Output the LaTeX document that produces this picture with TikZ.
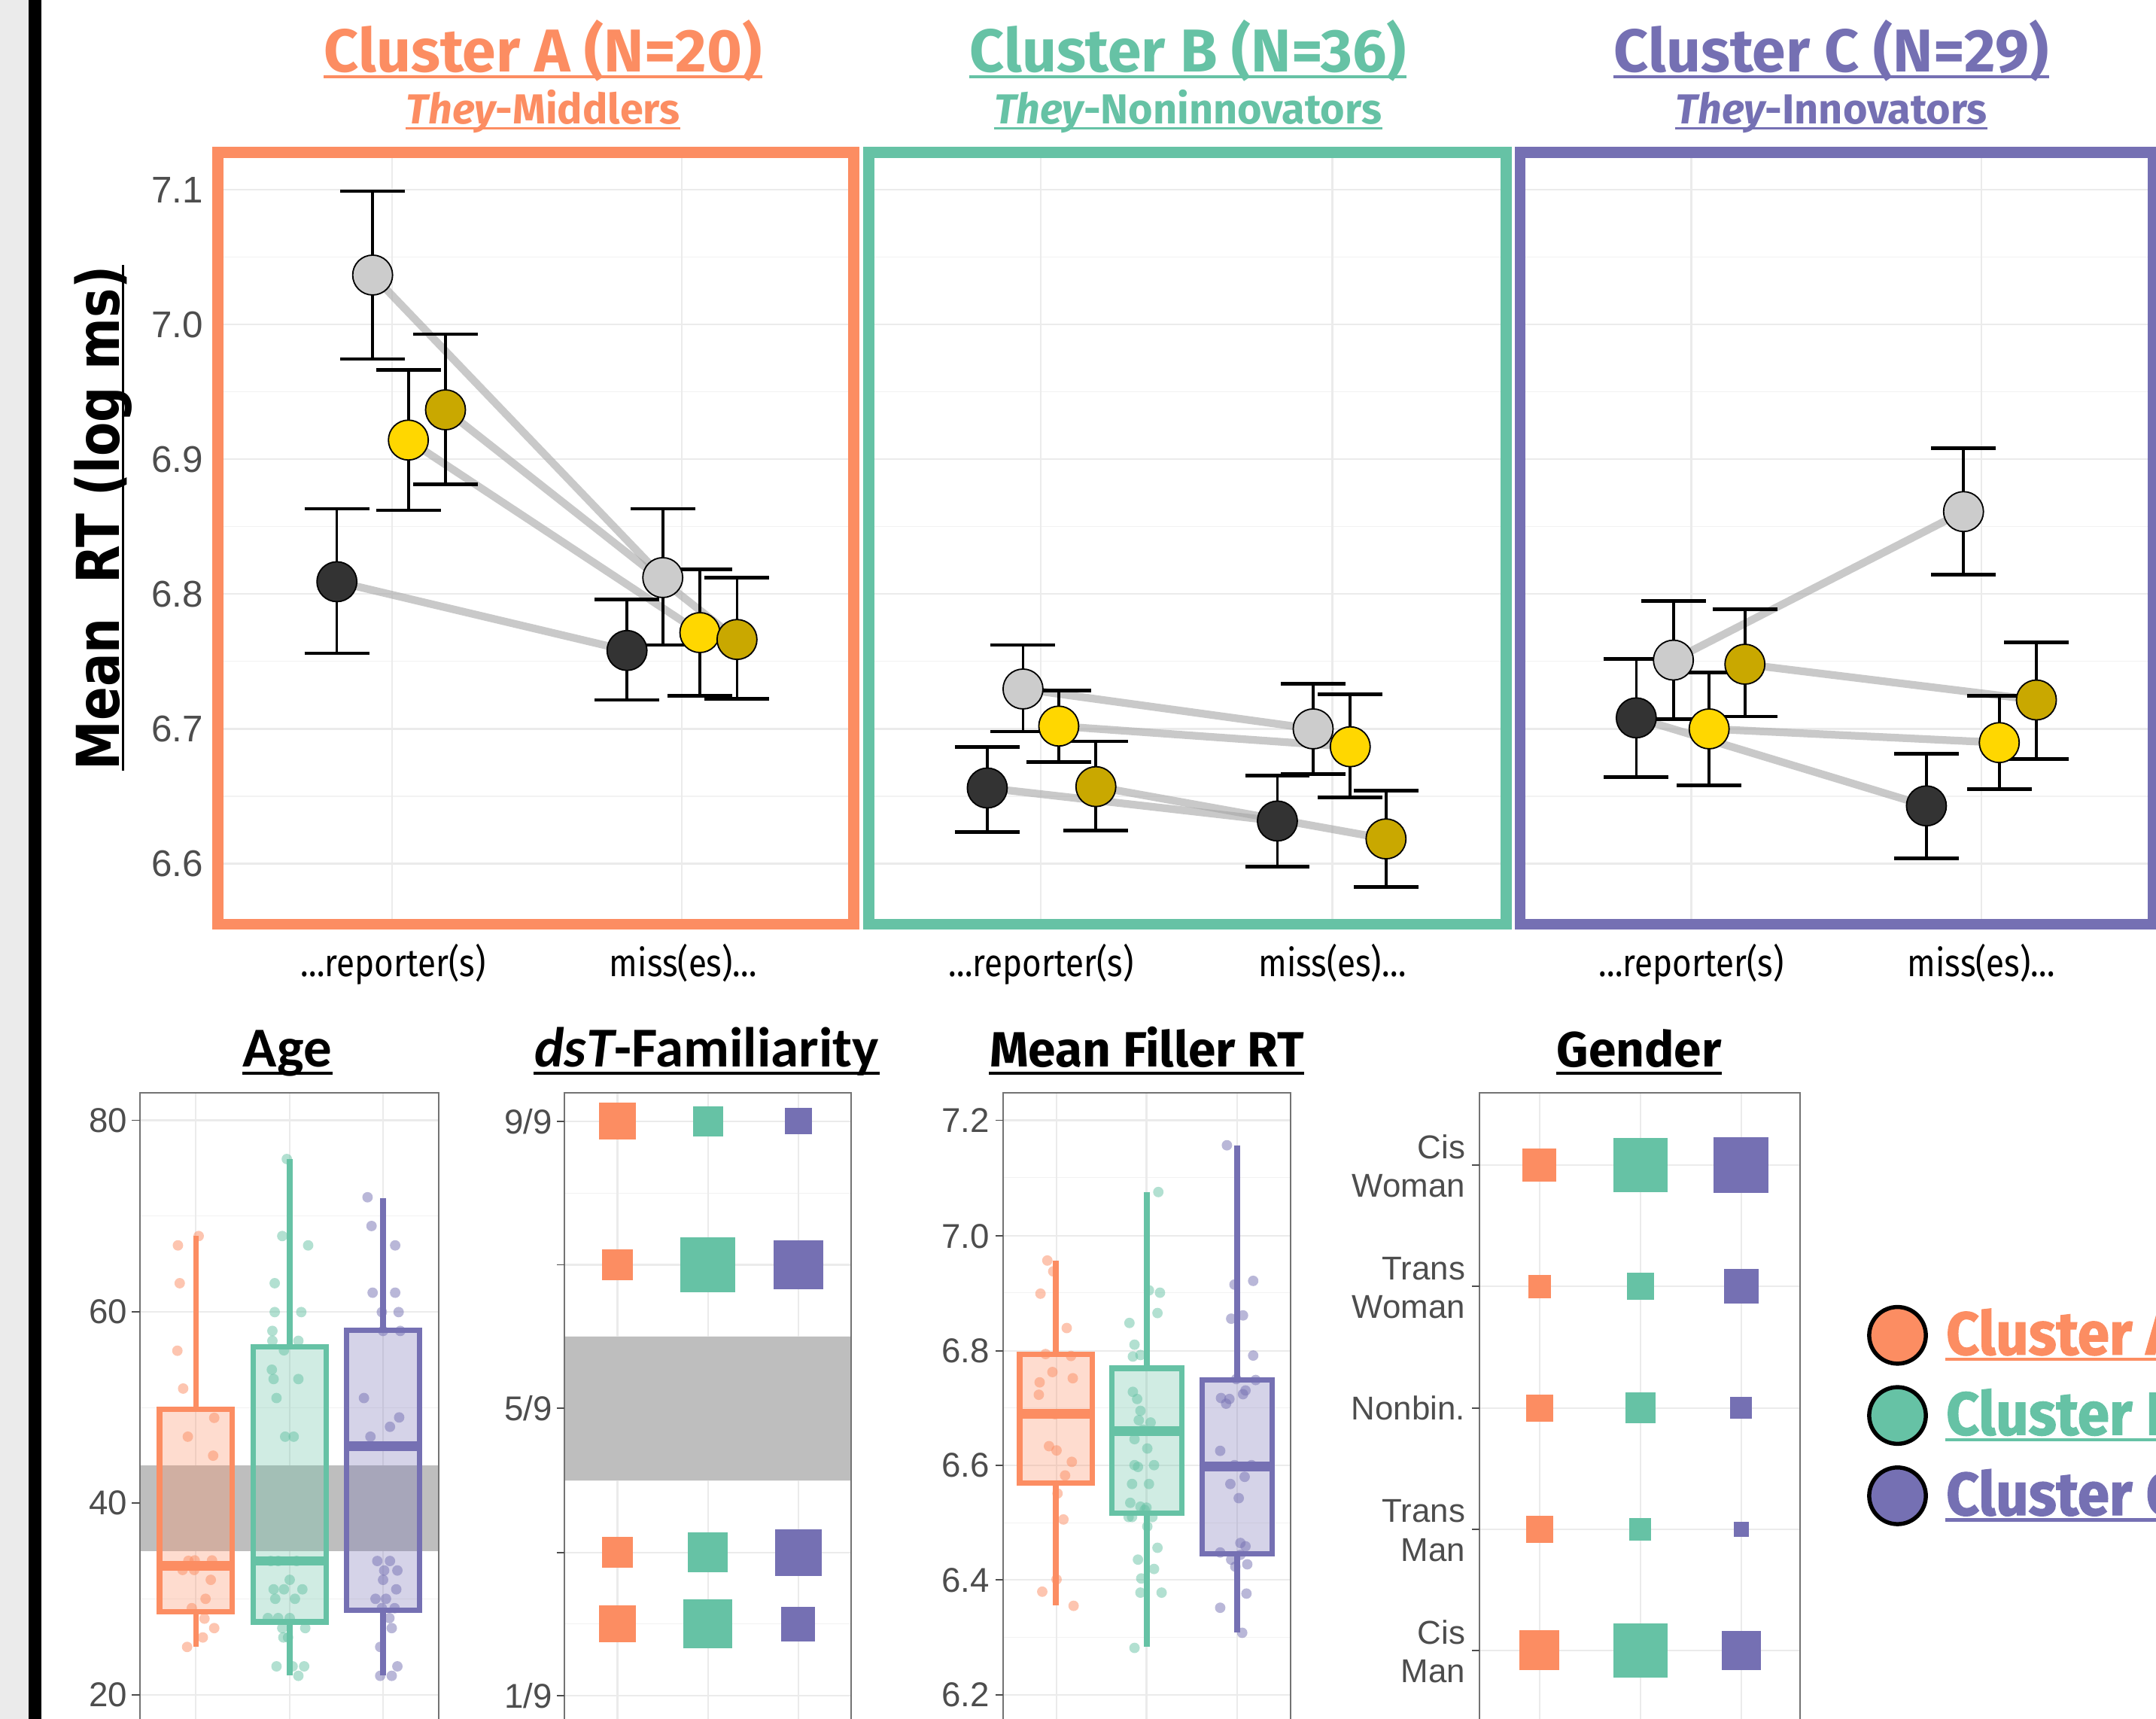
\documentclass[tikz,border=0pt]{standalone}
\usepackage{fontspec}
\setmainfont{Liberation Sans}
\newfontfamily\ttlfont{Fira Sans}
\newfontfamily\legfont[FakeStretch=0.95,BoldFeatures={FakeBold=1.5}]{Fira Sans}
\newfontfamily\axfont{Liberation Sans}
\newfontfamily\xlfont[FakeStretch=0.86]{Fira Sans}
\newfontfamily\carl{Carlito}
\newfontfamily\ylfont{DejaVu Sans}
\usetikzlibrary{calc}
\definecolor{cA}{HTML}{FC8D62}
\definecolor{cB}{HTML}{66C2A5}
\definecolor{cC}{HTML}{7570B3}
\definecolor{ptgray}{HTML}{CCCCCC}
\definecolor{ptyel}{HTML}{FFD700}
\definecolor{ptgold}{HTML}{C9A800}
\definecolor{ptblk}{HTML}{333333}
\definecolor{tickc}{HTML}{4D4D4D}
\definecolor{bandc}{HTML}{BEBEBE}
\definecolor{stripc}{HTML}{EBEBEB}
\newcommand\bplot[8]{%
  \draw[#8,line width=2pt] ({(#1+#2)/2},#6) -- ({(#1+#2)/2},#3);
  \draw[#8,line width=2pt] ({(#1+#2)/2},#4) -- ({(#1+#2)/2},#7);
  \filldraw[draw=#8,fill=#8,fill opacity=0.3,line width=2pt] (#1,#3) rectangle (#2,#4);
  \draw[#8,line width=3.5pt] (#1,#5) -- (#2,#5);
}
\newcommand\sqr[4]{\fill[#4] ({#1-#3/2},{#2-#3/2}) rectangle ({#1+#3/2},{#2+#3/2});}
\begin{document}
\begin{tikzpicture}[x=0.5pt,y=-0.5pt,
  gmaj/.style={draw=black!8,line width=0.6pt},
  gmin/.style={draw=black!5,line width=0.3pt},
  conn/.style={draw=black!35,draw opacity=0.6,line width=2.8pt},
  ebar/.style={draw=black,line width=1pt},
  ecap/.style={draw=black,line width=1.3pt},
  dot/.style={circle,draw=black,line width=0.5pt,minimum size=14.5pt,inner sep=0pt},
  pbord/.style={line width=4pt},
  ttl/.style={anchor=base,inner sep=0pt,font=\ttlfont\bfseries\fontsize{22}{22}\selectfont},
  subt/.style={anchor=base,inner sep=0pt,font=\ttlfont\bfseries\fontsize{15.25}{16}\selectfont},
  ytk/.style={anchor=east,inner sep=0pt,text=tickc,font=\axfont\fontsize{13.5}{14}\selectfont},
  xlab/.style={anchor=base,inner sep=0pt,font=\xlfont\fontsize{14}{14}\selectfont},
  btk/.style={anchor=east,inner sep=0pt,text=tickc,font=\axfont\fontsize{12.5}{14}\selectfont},
  glab/.style={anchor=east,inner sep=0pt,align=right,text=tickc,font=\axfont\fontsize{12}{14}\selectfont},
  btitle/.style={anchor=base,inner sep=0pt,font=\carl\bfseries\fontsize{20.5}{22}\selectfont},
  ctitle/.style={anchor=base,inner sep=0pt,font=\ttlfont\bfseries\fontsize{18}{20}\selectfont},
  legt/.style={anchor=base west,inner sep=0pt,font=\legfont\bfseries\fontsize{22}{22}\selectfont},
  jit/.style={fill opacity=0.5},
  frm/.style={draw=black!55,line width=0.5pt}
]
\useasboundingbox (0,0) rectangle (1568,1250);
\clip (0,0) rectangle (1568,1250);
\fill[white] (0,0) rectangle (1568,1250);
\fill[stripc] (0,0) rectangle (21,1250);
\fill[black] (21,0) rectangle (30,1250);

% ---------- top panels: grid ----------
\foreach \xa/\xb/\xr/\xm in {158.5/621/285/496, 632/1095.5/757/969, 1105.5/1566/1230/1441}{
  \foreach \yy in {187,285,383,481,579} \draw[gmin] (\xa,\yy) -- (\xb,\yy);
  \foreach \yy in {138,236,334,432,530,628} \draw[gmaj] (\xa,\yy) -- (\xb,\yy);
  \draw[gmaj] (\xr,110.7) -- (\xr,672);
  \draw[gmaj] (\xm,110.7) -- (\xm,672);
}

% ---------- data points ----------
\def\ptlist{A-k-r/245/423/370/475/ptblk, A-g-r/271/200/139/261/ptgray, A-y-r/297/320/269/371/ptyel, A-o-r/324/298/243/352/ptgold,
 A-k-m/456/473/436/509/ptblk, A-g-m/482/420/370/469/ptgray, A-y-m/509/460/414/506/ptyel, A-o-m/536/465/420/508/ptgold,
 B-k-r/718/573/543/605/ptblk, B-g-r/744/501/469/532/ptgray, B-y-r/770/528/502/554/ptyel, B-o-r/797/572/539/604/ptgold,
 B-k-m/929/597/564/630/ptblk, B-g-m/955/530/497/563/ptgray, B-y-m/982/543/505/580/ptyel, B-o-m/1008/610/575/645/ptgold,
 C-k-r/1190/522/479/565/ptblk, C-g-r/1217/480/437/523/ptgray, C-y-r/1243/530/489/571/ptyel, C-o-r/1269/483/443/521/ptgold,
 C-k-m/1401/586/548/624/ptblk, C-g-m/1428/372/326/418/ptgray, C-y-m/1454/540/506/574/ptyel, C-o-m/1481/509/467/552/ptgold}
\foreach \nm/\px/\py/\ptop/\pbot/\pcol in \ptlist { \coordinate (\nm) at (\px,\py); }
\foreach \cl in {A,B,C}{\foreach \sr in {k,g,y,o}{\draw[conn] (\cl-\sr-r) -- (\cl-\sr-m);}}
\foreach \nm/\px/\py/\ptop/\pbot/\pcol in \ptlist {
  \draw[ebar] (\px,\ptop) -- (\px,\pbot);
  \draw[ecap] (\px-23.5,\ptop) -- (\px+23.5,\ptop);
  \draw[ecap] (\px-23.5,\pbot) -- (\px+23.5,\pbot);
}
\foreach \nm/\px/\py/\ptop/\pbot/\pcol in \ptlist { \node[dot,fill=\pcol] (\nm-d) at (\nm) {}; }

% ---------- panel borders ----------
\draw[pbord,cA] (158.5,110.7) rectangle (621,672);
\draw[pbord,cB] (632,110.7) rectangle (1095.5,672);
\draw[pbord,cC] (1105.5,110.7) rectangle (1566,672);

% y ticks top
\foreach \yy/\lab in {138/7.1,236/7.0,334/6.9,432/6.8,530/6.7,628/6.6}{
  \node[ytk] (yt\lab) at (148,\yy) {\lab};
}
% x labels
\foreach \xr/\xm/\k in {286/497/A,757/969/B,1230/1441/C}{
  \node[xlab] (xr\k) at (\xr,710) {…reporter(s)};
  \node[xlab] (xm\k) at (\xm,710) {miss(es)…};
}

% y axis label
\node[rotate=90,anchor=base,inner sep=0pt] (ylab) at (87,376.5)
  {\scalebox{0.84}[1]{\ylfont\bfseries\fontsize{21.5}{22}\selectfont Mean\ \ RT (log ms)}};
\draw[black,line width=0.8pt] ($(ylab.base west)+(2.5,0)$) -- ($(ylab.base east)+(2.5,0)$);

% titles
\node[ttl,text=cA] (tA) at (395,52) {Cluster A (N=20)};
\node[ttl,text=cB] (tB) at (864,52) {Cluster B (N=36)};
\node[ttl,text=cC] (tC) at (1332,52) {Cluster C (N=29)};
\node[subt,text=cA] (sA) at (395,90) {{\itshape They}-Middlers};
\node[subt,text=cB] (sB) at (864,90) {{\itshape They}-Noninnovators};
\node[subt,text=cC] (sC) at (1332,90) {{\itshape They}-Innovators};
\foreach \n/\c in {tA/cA,tB/cB,tC/cC}{\draw[\c,line width=1.2pt] ($(\n.base west)+(0,3.8)$) -- ($(\n.base east)+(0,3.8)$);}
\foreach \n/\c in {sA/cA,sB/cB,sC/cC}{\draw[\c,line width=1pt] ($(\n.base west)+(0,3.3)$) -- ($(\n.base east)+(0,3.3)$);}

% ---------- bottom titles ----------
\node[btitle] (bAge) at (209,776) {Age};
\node[btitle] (bFam) at (514,776) {{\itshape dsT}-Familiarity};
\node[ctitle] (bFil) at (834,776) {Mean Filler RT};
\node[ctitle] (bGen) at (1192,776) {Gender};
\foreach \n in {bAge,bFam,bFil,bGen}{\draw[black,line width=1pt] ($(\n.base west)+(0,4.5)$) -- ($(\n.base east)+(0,4.5)$);}

% ---------- Age panel ----------
\foreach \yy in {884.25,1023.55,1162.85} \draw[gmin] (101.8,\yy) -- (319.2,\yy);
\foreach \yy in {814.6,954,1092.8,1232.3} \draw[gmaj] (101.8,\yy) -- (319.2,\yy);
\foreach \xx in {142.4,210.7,278.6} \draw[gmaj] (\xx,794.7) -- (\xx,1262);
\fill[bandc] (101.8,1065.4) rectangle (319.2,1128.2);
\bplot{116}{168.8}{1024.8}{1171.9}{1138.5}{898.8}{1197.6}{cA}
\bplot{184.3}{237.1}{979.5}{1179.4}{1135.1}{842.7}{1218.2}{cB}
\bplot{252.2}{305}{967.5}{1170.8}{1051.6}{871.2}{1218.2}{cC}
\foreach \xx/\yy in {129.4/905.6,144.5/898.8,130.7/933.1,129/982.2,133.2/1009.7,155.8/1031,136.6/1044.7,155/1058.5,141.6/1134.7,154.2/1134.7,132.8/1141.6,141.2/1141.6,153.3/1148.8,149.5/1162.6,139.5/1169.4,148.7/1177,155.8/1183.9,147.5/1190.7,136.1/1197.6,137/1135}
  \fill[cA,jit] (\xx,\yy) circle (1.9pt);
\foreach \xx/\yy in {208.6/842.8,205.3/898.8,224.1/905.6,199.8/933.1,199.8/954.1,219.1/954.1,198.1/967.8,198.1/975,217/975,206.5/981.9,197.7/996,199/1002.8,217/1002.8,201.1/1016.6,207.4/1044.7,213.6/1044.7,196.9/1135.1,202.3/1135.1,210.7/1148.8,199/1155.7,206.5/1155.7,200.2/1162.6,214.5/1162.6,202.3/1176.6,210.7/1176.6,205.3/1183.9,222/1183.9,206.1/1190.7,201.1/1211.7,212.8/1211.7,221.2/1211.7,217/1218.6,215.7/1135.1,194.8/1176.6,219.9/1155.7,209.5/1190.7}
  \fill[cB,jit] (\xx,\yy) circle (1.9pt);
\foreach \xx/\yy in {267.3/870.6,270.2/891.5,287.4/905.6,271/940,287.4/940,277.7/954.1,289.9/954.1,278.6/967.8,291.1/967.8,264.7/1016.6,290.3/1030.7,283.6/1037.5,269.4/1044.7,274.4/1135.1,283.6/1135.1,289/1142,278.6/1148.8,288.2/1155.7,273.1/1162.6,280.7/1162.6,277.7/1169.4,287/1169.4,283.2/1176.6,284.9/1183.9,276.5/1197.6,289/1211.7,276.5/1218.6,284.9/1218.6,279.4/1142}
  \fill[cC,jit] (\xx,\yy) circle (1.9pt);
\draw[frm] (101.8,794.7) rectangle (319.2,1262);
\foreach \yy/\lab in {814.6/80,954/60,1092.8/40,1232.3/20}{
  \draw[draw=tickc,line width=0.5pt] (96,\yy) -- (101.8,\yy);
  \node[btk] (age\lab) at (93,\yy) {\lab};
}

% ---------- dsT-Familiarity panel ----------
\foreach \yy in {867.5,971.9,1076.5,1181} \draw[gmin] (410.5,\yy) -- (619.2,\yy);
\foreach \yy in {815.3,919.7,1024.1,1128.9,1233} \draw[gmaj] (410.5,\yy) -- (619.2,\yy);
\foreach \xx in {449,514.8,580.6} \draw[gmaj] (\xx,794.7) -- (\xx,1262);
\fill[bandc] (410.5,971.9) rectangle (619.2,1076.4);
\sqr{449}{815.3}{26.8}{cA} \sqr{514.8}{815.3}{21.8}{cB} \sqr{580.6}{815.3}{19.3}{cC}
\sqr{449}{919.7}{22.2}{cA} \sqr{514.8}{919.7}{40.2}{cB} \sqr{580.6}{919.7}{36}{cC}
\sqr{449}{1128.9}{22.2}{cA} \sqr{514.8}{1128.9}{28.9}{cB} \sqr{580.6}{1128.9}{33.9}{cC}
\sqr{449}{1181}{26.8}{cA} \sqr{514.8}{1181}{35.6}{cB} \sqr{580.6}{1181}{24.7}{cC}
\draw[frm] (410.5,794.7) rectangle (619.2,1262);
\foreach \yy in {815.3,919.7,1024.1,1128.9,1233} \draw[draw=tickc,line width=0.5pt] (405,\yy) -- (410.5,\yy);
\node[btk] (f9) at (402,815.3) {9/9};
\node[btk] (f5) at (402,1024.1) {5/9};
\node[btk] (f1) at (402,1233) {1/9};

% ---------- Mean Filler RT panel ----------
\foreach \yy in {856.4,940,1023.6,1107.2,1190.8} \draw[gmin] (729.6,\yy) -- (938.5,\yy);
\foreach \yy in {814.6,898.8,982.2,1065.7,1148.9,1232.6} \draw[gmaj] (729.6,\yy) -- (938.5,\yy);
\foreach \xx in {768.4,833.8,899.7} \draw[gmaj] (\xx,794.7) -- (\xx,1262);
\bplot{741.5}{794.3}{984.7}{1078.4}{1028.2}{916.6}{1167.4}{cA}
\bplot{808.5}{859.6}{995}{1100.4}{1040.6}{866.8}{1197.6}{cB}
\bplot{874.4}{925}{1003.5}{1130}{1066.4}{832.8}{1187.3}{cC}
\foreach \xx/\yy in {761.7/916.6,766/924.5,756.7/940.7,775.8/965.7,760.4/984.6,778.9/986,765.4/997.7,756.1/1005.2,780.2/1002.2,755.5/1014.2,767.2/1028.3,762.9/1051.6,768.4/1054.7,779.5/1063,774.6/1072.9,769.1/1086,773.4/1104.9,768.4/1148.5,758/1157.4,780.8/1167.7}
  \fill[cA,jit] (\xx,\yy) circle (1.9pt);
\foreach \xx/\yy in {842.4/866.8,835.6/938.3,843.6/940,841.8/954.8,821.4/962,825.1/977.8,823.9/986.4,829.4/985.3,823.9/1012.1,827/1017.3,829.4/1025.9,828.2/1032.7,836.8/1034.4,825.1/1046.5,834.4/1053.3,825.1/1065.4,827.6/1066.7,823.3/1079.1,835.6/1079.1,829.4/1095.6,832.5/1098,823.3/1103.1,834.4/1110,841.8/1125.5,827.6/1134.1,839.3/1140.9,829.4/1158.1,844.8/1158.1,825.1/1198.3,820.8/1103.1,838.1/1103.1,833.8/1096.3,839.3/1065.4,831.3/1039.6,822/1092.8,830/1147.8}
  \fill[cB,jit] (\xx,\yy) circle (1.9pt);
\foreach \xx/\yy in {892.3/832.8,897.8/934.1,911.4/931.4,895.4/958.9,904/956.5,899.1/1002.8,913.2/1003.5,888/1016.6,894.1/1017.3,905.8/1011.1,911.4/985.7,887.4/1055,905.2/1073.9,894.8/1079.1,902.1/1122,905.8/1124.4,895.4/1134.1,902.1/1130.6,887.4/1128.9,906.5/1158.8,887.4/1169.1,903.4/1187.3,898.4/1139.2,907.1/1137.5,897.8/1065.4,910.2/1065.4,891.7/1020.7,904/1013.8,900.9/1089.4}
  \fill[cC,jit] (\xx,\yy) circle (1.9pt);
\draw[frm] (729.6,794.7) rectangle (938.5,1262);
\foreach \yy/\lab in {814.6/7.2,898.8/7.0,982.2/6.8,1065.7/6.6,1148.9/6.4,1232.6/6.2}{
  \draw[draw=tickc,line width=0.5pt] (724,\yy) -- (729.6,\yy);
  \node[btk] (fil\lab) at (720,\yy) {\lab};
}

% ---------- Gender panel ----------
\foreach \yy in {847.2,935.5,1023.8,1112.1,1200} \draw[gmaj] (1075.9,\yy) -- (1309.1,\yy);
\foreach \xx in {1119.6,1193,1266.3} \draw[gmaj] (\xx,794.7) -- (\xx,1262);
\sqr{1119.6}{847.2}{24.6}{cA} \sqr{1193}{847.2}{39.4}{cB} \sqr{1266.3}{847.2}{40}{cC}
\sqr{1119.6}{935.5}{16.6}{cA} \sqr{1193}{935.5}{19.7}{cB} \sqr{1266.3}{935.5}{25.3}{cC}
\sqr{1119.6}{1023.8}{19.7}{cA} \sqr{1193}{1023.8}{22.2}{cB} \sqr{1266.3}{1023.8}{16}{cC}
\sqr{1119.6}{1112.1}{19.7}{cA} \sqr{1193}{1112.1}{16}{cB} \sqr{1266.3}{1112.1}{11.1}{cC}
\sqr{1119.6}{1200}{29}{cA} \sqr{1193}{1200}{39.4}{cB} \sqr{1266.3}{1200}{28.3}{cC}
\draw[frm] (1075.9,794.7) rectangle (1309.1,1262);
\foreach \yy in {847.2,935.5,1023.8,1112.1,1200} \draw[draw=tickc,line width=0.5pt] (1070.5,\yy) -- (1075.9,\yy);
\node[glab] (g1) at (1066,848) {Cis\\Woman};
\node[glab] (g2) at (1066,936.5) {Trans\\Woman};
\node[glab] (g3) at (1066,1023.8) {Nonbin.};
\node[glab] (g4) at (1066,1113) {Trans\\Man};
\node[glab] (g5) at (1066,1201) {Cis\\Man};

% ---------- legend ----------
\foreach \yy/\c/\lab/\k in {971/cA/A/1,1029.3/cB/B/2,1087.7/cC/C/3}{
  \node[circle,draw=black,line width=1.5pt,fill=\c,minimum size=20.6pt,inner sep=0pt] (lc\k) at (1380,\yy) {};
  \node[legt,text=\c] (lt\k) at (1415,\yy+14) {Cluster \lab};
  \draw[\c,line width=1.2pt] ($(lt\k.base west)+(0,3.5)$) -- ($(lt\k.base east)+(0,3.5)$);
}
\end{tikzpicture}
\end{document}
